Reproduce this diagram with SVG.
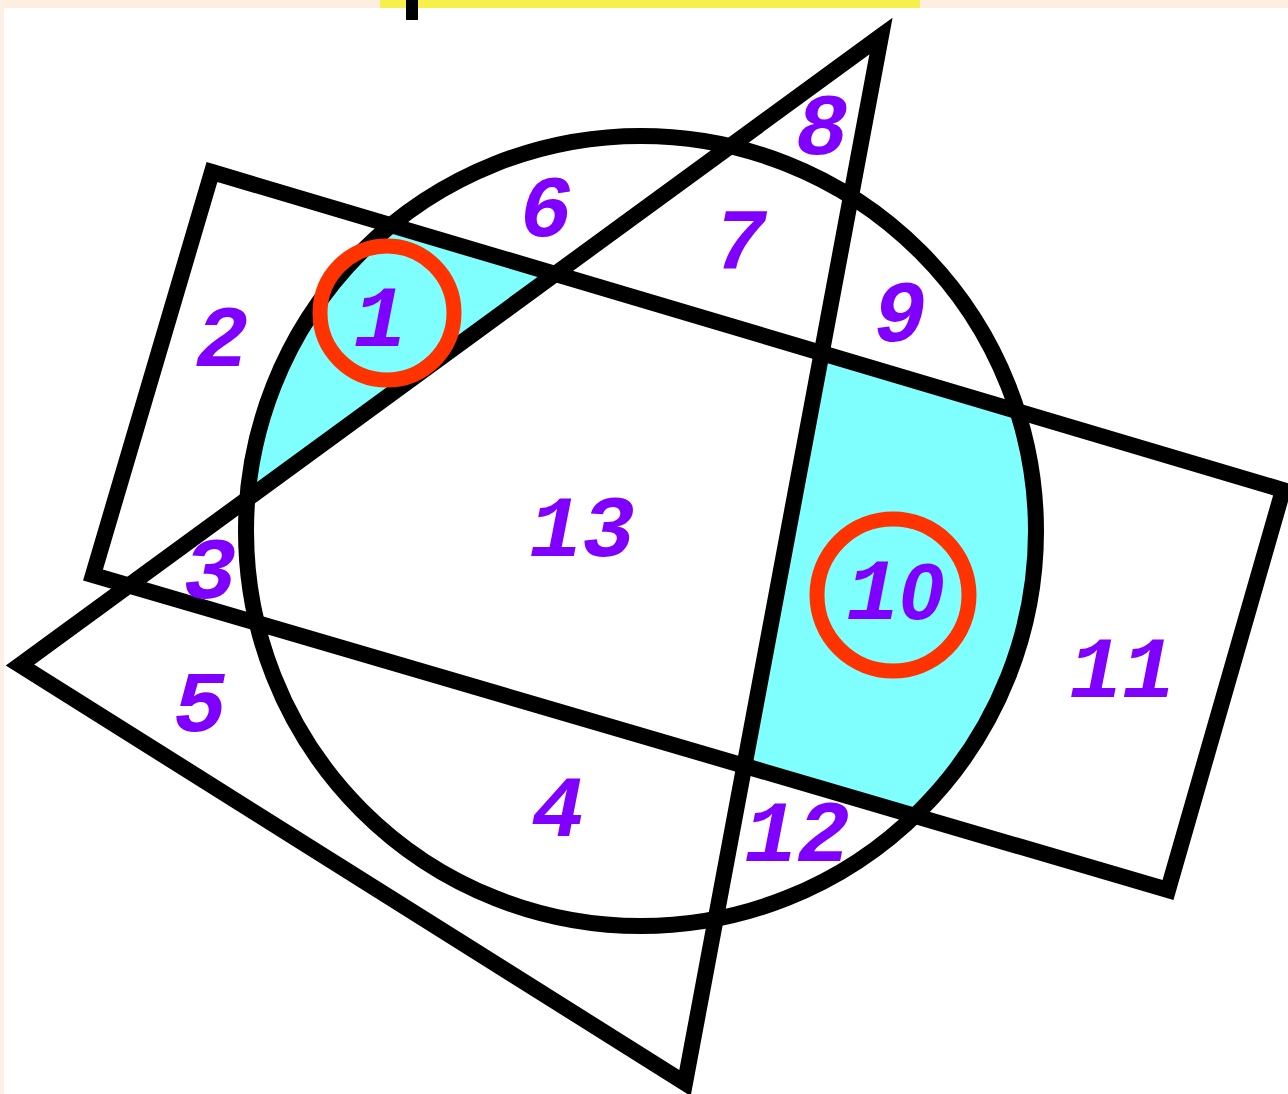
<svg xmlns="http://www.w3.org/2000/svg" width="1288" height="1094" viewBox="0 0 1288 1094">
  <style>
    .outline { fill: none; stroke: #000; stroke-width: 16; stroke-linejoin: miter; }
    .mark { fill: none; stroke: #ff3300; stroke-width: 15; }
    .num { font-family: "Liberation Mono", "Courier New", monospace; font-weight: bold; font-style: italic; font-size: 88px; fill: #8000ff; text-anchor: middle; }
    .zero { font-family: "Liberation Sans", Arial, sans-serif; font-size: 80px; }
  </style>
  <defs>
    <clipPath id="rectClip">
      <polygon points="212,172 1283,490 1168,890 93,575"/>
    </clipPath>
  </defs>
  <rect width="1288" height="1094" fill="#ffffff"/>
  <g id="backdrop">
    <rect x="0" y="0" width="1288" height="8" fill="#fdeee0"/>
    <rect x="380" y="0" width="540" height="8" fill="#f8f04a"/>
    <rect x="0" y="0" width="4" height="1094" fill="#fdf0e4"/>
    <rect x="406" y="0" width="12" height="20" fill="#000"/>
  </g>
  <g id="shading">
    <circle cx="641" cy="531" r="395" fill="#80ffff" clip-path="url(#rectClip)"/>
    <polygon points="881,36 20,665 685,1083" fill="#ffffff"/>
  </g>
  <g id="circle">
    <circle class="outline" cx="641" cy="531" r="395"/>
  </g>
  <g id="rectangle">
    <polygon class="outline" points="212,172 1283,490 1168,890 93,575"/>
  </g>
  <g id="triangle">
    <polygon class="outline" points="881,36 20,665 685,1083"/>
  </g>
  <g id="labels">
    <text class="num" x="380" y="346">1</text>
    <text class="num" x="222" y="366">2</text>
    <text class="num" x="210" y="598">3</text>
    <text class="num" x="558" y="836">4</text>
    <text class="num" x="200" y="731">5</text>
    <text class="num" x="546" y="236">6</text>
    <text class="num" x="740" y="269">7</text>
    <text class="num" x="822" y="154">8</text>
    <text class="num" x="900" y="341">9</text>
    <text class="num" x="895" y="619">1<tspan class="zero">0</tspan></text>
    <text class="num" x="1122" y="697">11</text>
    <text class="num" x="797" y="861">12</text>
    <text class="num" x="582" y="556">13</text>
  </g>
  <g id="highlights">
    <circle class="mark" cx="387" cy="313" r="67"/>
    <circle class="mark" cx="893" cy="595" r="76"/>
  </g>
</svg>
